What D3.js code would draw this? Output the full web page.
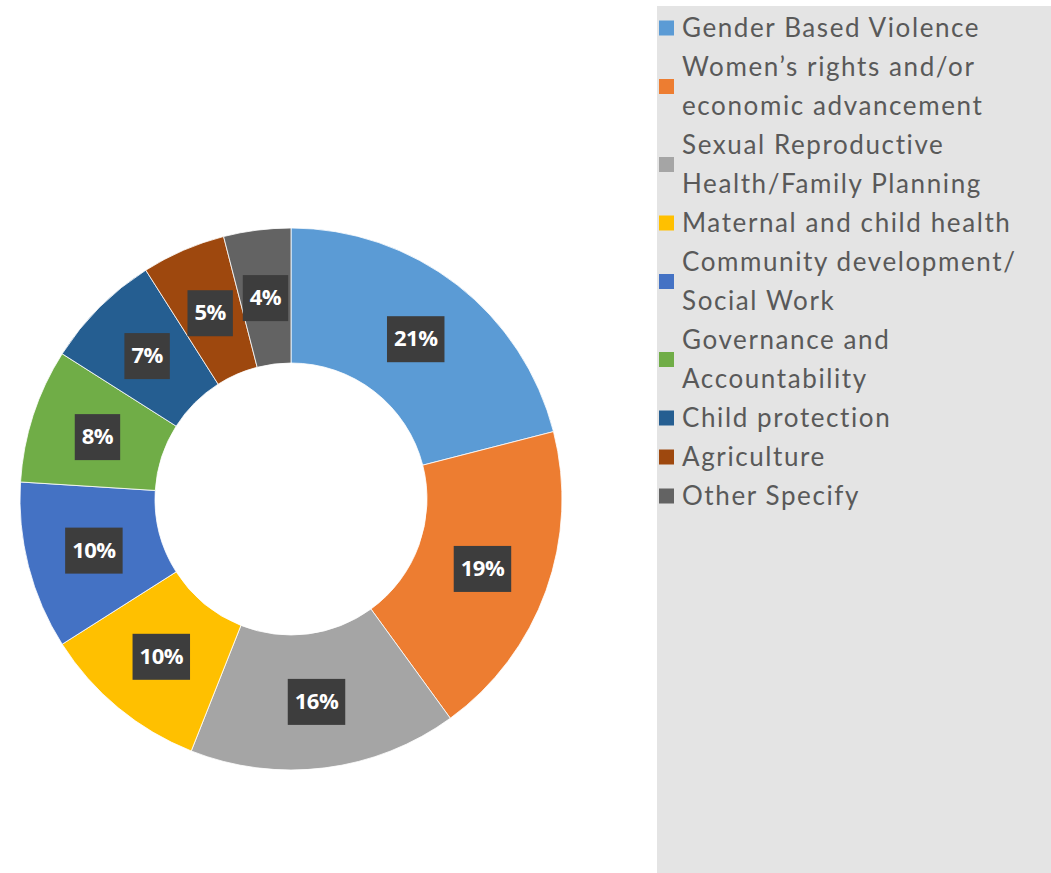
<!DOCTYPE html>
<html>
<head>
<meta charset="utf-8">
<script src="https://cdn.jsdelivr.net/npm/d3@7"></script>
<style>
  html, body { margin: 0; padding: 0; background: #ffffff; }
  svg { display: block; }
</style>
</head>
<body>
<svg id="chart" width="1051" height="873"></svg>
<script>
// Focus areas and their share of responses (percent)
const categories = [
  "Gender Based Violence",
  "Women\u2019s rights and/or economic advancement",
  "Sexual Reproductive Health/Family Planning",
  "Maternal and child health",
  "Community development/ Social Work",
  "Governance and Accountability",
  "Child protection",
  "Agriculture",
  "Other Specify"
];
const values = [21, 19, 16, 10, 10, 8, 7, 5, 4];
// Legend text, wrapped as shown
const legendLines = [
  ["Gender Based Violence"],
  ["Women\u2019s rights and/or", "economic advancement"],
  ["Sexual Reproductive", "Health/Family Planning"],
  ["Maternal and child health"],
  ["Community development/", "Social Work"],
  ["Governance and", "Accountability"],
  ["Child protection"],
  ["Agriculture"],
  ["Other Specify"]
];
const colors = ["#5B9BD5", "#ED7D31", "#A5A5A5", "#FFC000", "#4472C4",
                "#70AD47", "#255E91", "#9E480E", "#636363"];

const svg = d3.select("#chart");
const cx = 291, cy = 499, outerR = 271, innerR = 136;

const color = d3.scaleOrdinal().domain(categories).range(colors);
const data = categories.map((c, i) => ({ name: c, value: values[i] }));

const pie = d3.pie().value(d => d.value).sort(null);
const arc = d3.arc().innerRadius(innerR).outerRadius(outerR);
const arcs = pie(data);

const g = svg.append("g").attr("transform", `translate(${cx},${cy})`);

g.selectAll("path.slice")
  .data(arcs)
  .join("path")
  .attr("class", "slice")
  .attr("d", arc)
  .attr("fill", d => color(d.data.name))
  .attr("stroke", "#ffffff")
  .attr("stroke-width", 0.8);

// Data labels: white bold percentage on a dark box at the slice centroid
const labels = g.selectAll("g.lbl")
  .data(arcs)
  .join("g")
  .attr("class", "lbl")
  .attr("transform", d => `translate(${arc.centroid(d)})`);

labels.append("rect").attr("fill", "#3d3d3d");
labels.append("text")
  .attr("text-anchor", "middle")
  .attr("dy", "0.36em")
  .attr("fill", "#ffffff")
  .style("font-family", "'Open Sans', sans-serif")
  .style("font-weight", "bold")
  .style("font-size", "22px")
  .style("letter-spacing", "-0.5px")
  .text(d => d.data.value + "%");

labels.each(function () {
  const t = d3.select(this).select("text").node();
  const w = t.getComputedTextLength() + 14;
  d3.select(this).select("rect")
    .attr("x", -w / 2).attr("y", -22)
    .attr("width", w).attr("height", 46);
});

// Legend panel
const legX = 657, legY = 6;
svg.append("rect")
  .attr("x", legX).attr("y", legY)
  .attr("width", 1051 - legX).attr("height", 873 - legY)
  .attr("fill", "#e4e4e4");

const lineH = 39, firstY = 28;
let row = 0;
const legend = svg.append("g");
legendLines.forEach((lines, i) => {
  const startRow = row;
  lines.forEach(txt => {
    legend.append("text")
      .attr("x", 682)
      .attr("y", firstY + row * lineH)
      .attr("dy", "0.35em")
      .attr("fill", "#595959")
      .style("font-family", "Lato, sans-serif")
      .style("font-size", "26px")
      .style("letter-spacing", "1.6px")
      .text(txt);
    row++;
  });
  const midY = firstY + (startRow + row - 1) / 2 * lineH;
  legend.append("rect")
    .attr("x", 659).attr("y", midY - 7.5)
    .attr("width", 15).attr("height", 15)
    .attr("fill", color(categories[i]));
});
</script>
</body>
</html>
